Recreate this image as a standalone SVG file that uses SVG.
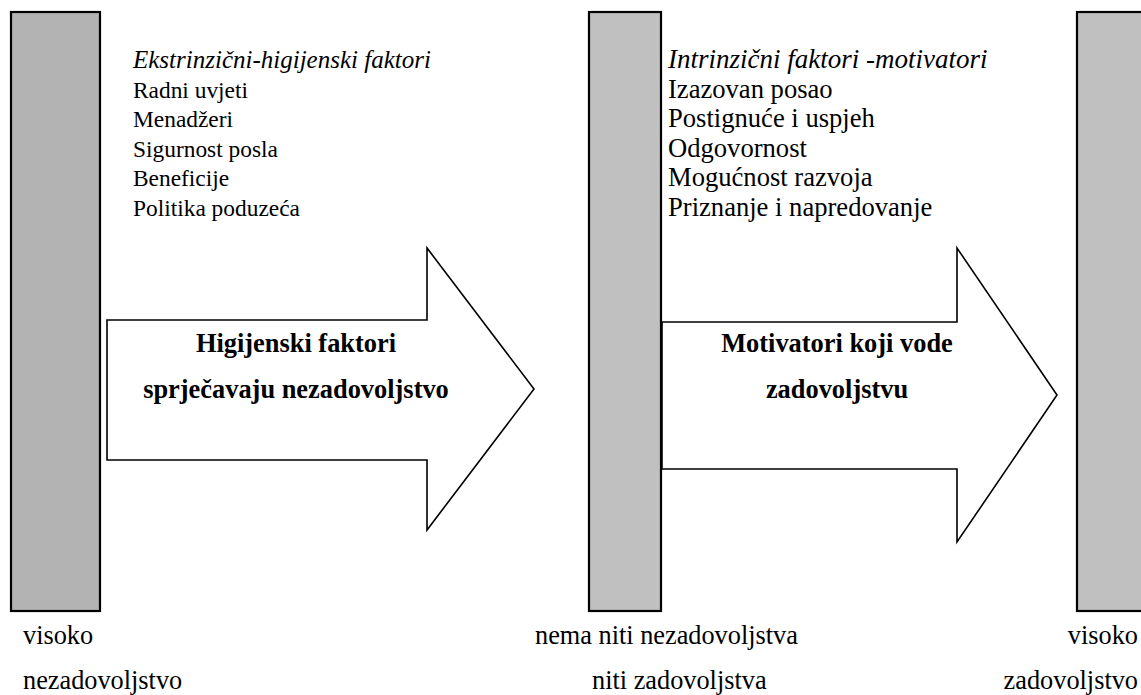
<svg xmlns="http://www.w3.org/2000/svg" width="1141" height="695" viewBox="0 0 1141 695" font-family="'Liberation Serif', 'Times New Roman', Times, serif">
<style>
.bar{stroke:#000;stroke-width:2.2}
.arrow{fill:#fff;stroke:#000;stroke-width:1.6;stroke-linejoin:miter}
text{font-family:'Liberation Serif','Times New Roman',Times,serif;fill:#000}
.it1{font-style:italic;font-size:25px}
.li1{font-size:23.4px}
.it2{font-style:italic;font-size:27px}
.li2{font-size:26.6px}
.b{font-weight:bold;font-size:26.4px;text-anchor:middle}
.lab{font-size:26.3px}
</style>
<rect width="1141" height="695" fill="#fff"/>
<g id="bar-left"><rect class="bar" x="11" y="12" width="89" height="599" fill="#b3b3b3"/></g>
<g id="bar-middle"><rect class="bar" x="589" y="12" width="72" height="599" fill="#c0c0c0"/></g>
<g id="bar-right"><rect class="bar" x="1077" y="12" width="80" height="599" fill="#c0c0c0"/></g>
<g id="connectors">
<g id="arrow-hygiene">
<polygon class="arrow" points="107,320 427,320 427,248 534,389 427,530 427,460 107,460"/>
<text class="b" x="296" y="352">Higijenski faktori</text>
<text class="b" x="296" y="398">sprječavaju nezadovoljstvo</text>
</g>
<g id="arrow-motivators">
<polygon class="arrow" points="662,322 957,322 957,248 1057,395 957,542 957,469 662,469"/>
<text class="b" x="837" y="352">Motivatori koji vode</text>
<text class="b" x="837" y="398">zadovoljstvu</text>
</g>
</g>
<g id="list-extrinsic">
<text class="it1" x="133" y="68">Ekstrinzični-higijenski faktori</text>
<text class="li1" x="133" y="97.6">Radni uvjeti</text>
<text class="li1" x="133" y="127.2">Menadžeri</text>
<text class="li1" x="133" y="156.8">Sigurnost posla</text>
<text class="li1" x="133" y="186.4">Beneficije</text>
<text class="li1" x="133" y="216">Politika poduzeća</text>
</g>
<g id="list-intrinsic">
<text class="it2" x="668" y="68">Intrinzični faktori -motivatori</text>
<text class="li2" x="668" y="97.6">Izazovan posao</text>
<text class="li2" x="668" y="127.2">Postignuće i uspjeh</text>
<text class="li2" x="668" y="156.8">Odgovornost</text>
<text class="li2" x="668" y="186.4">Mogućnost razvoja</text>
<text class="li2" x="668" y="216">Priznanje i napredovanje</text>
</g>
<g id="label-left">
<text class="lab" x="23" y="644">visoko</text>
<text class="lab" x="23" y="689">nezadovoljstvo</text>
</g>
<g id="label-middle">
<text class="lab" x="535" y="644">nema niti nezadovoljstva</text>
<text class="lab" x="592" y="689">niti zadovoljstva</text>
</g>
<g id="label-right">
<text class="lab" x="1138" y="644" text-anchor="end">visoko</text>
<text class="lab" x="1138" y="689" text-anchor="end">zadovoljstvo</text>
</g>
</svg>
